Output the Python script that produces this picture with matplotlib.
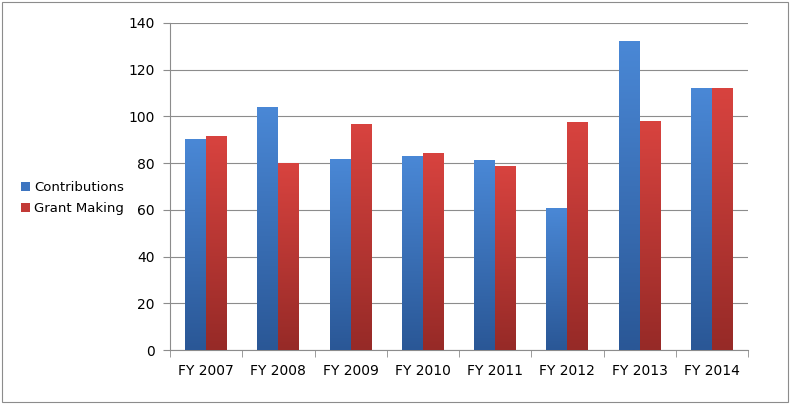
import matplotlib
matplotlib.use("Agg")
from matplotlib import pyplot as plt
from matplotlib.colors import LinearSegmentedColormap
from matplotlib.patches import Rectangle
import numpy as np

years = ["FY 2007", "FY 2008", "FY 2009", "FY 2010", "FY 2011", "FY 2012", "FY 2013", "FY 2014"]
contributions = [90, 104, 81.5, 83, 81, 60.5, 132, 112]
grant_making = [91.5, 80, 96.5, 84, 78.5, 97.5, 98, 112]

fig = plt.figure(figsize=(7.9, 4.04), dpi=100)
fig.patches.append(Rectangle((0.003, 0.005), 0.994, 0.99, transform=fig.transFigure,
                             fill=False, edgecolor="#8c8c8c", lw=0.8))
ax = fig.add_axes([170/790, 1-350/404, 578/790, 327/404])

x = np.arange(len(years))
w = 0.29
blue = LinearSegmentedColormap.from_list("b", ["#2a5796", "#4a88d6"])
red = LinearSegmentedColormap.from_list("r", ["#962a27", "#d8433f"])
grad = np.linspace(0, 1, 256).reshape(-1, 1)

b1 = ax.bar(x - w/2, contributions, w, color="#3d75c0", label="Contributions", zorder=2)
b2 = ax.bar(x + w/2, grant_making, w, color="#c23a36", label="Grant Making", zorder=2)
for bars, cmap in ((b1, blue), (b2, red)):
    for p in bars:
        x0, y0 = p.get_x(), p.get_y()
        ax.imshow(grad, cmap=cmap, origin="lower", aspect="auto", zorder=3,
                  extent=(x0, x0 + p.get_width(), y0, y0 + p.get_height()))

ax.set_xlim(-0.5, len(years) - 0.5)
ax.set_ylim(0, 140)
ax.set_yticks(range(0, 141, 20))
ax.set_xticks(x)
ax.set_xticklabels(years)
ax.set_xticks(np.arange(-0.5, len(years)), minor=True)
ax.tick_params(axis="x", which="major", length=0, pad=10)
ax.tick_params(axis="x", which="minor", length=5, color="#8c8c8c")
ax.tick_params(axis="y", length=5, color="#8c8c8c", pad=6)
ax.tick_params(labelsize=10)
ax.grid(axis="y", color="#8c8c8c", lw=0.8, zorder=0)
for s in ("top", "right"):
    ax.spines[s].set_visible(False)
for s in ("left", "bottom"):
    ax.spines[s].set_color("#8c8c8c")

fig.legend(handles=[b1, b2], loc="center left", bbox_to_anchor=(0.018, 0.51),
           frameon=False, fontsize=9.5, handlelength=0.7, handleheight=0.7,
           handletextpad=0.3, labelspacing=0.6, borderpad=0)
fig.savefig("out.png", dpi=100)
